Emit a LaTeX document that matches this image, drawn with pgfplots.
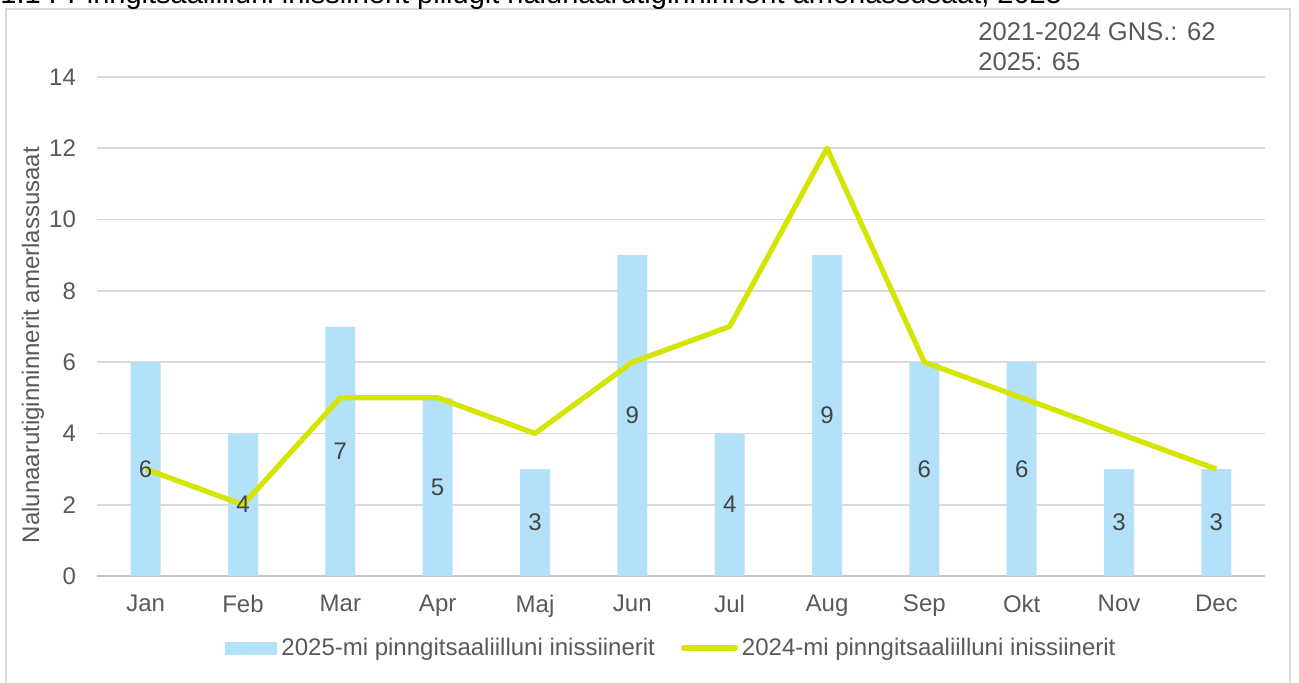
\documentclass[border=0pt]{standalone}
\usepackage{fontspec}
\setmainfont{Liberation Sans}
\usepackage{pgfplots}
\usepackage{pgfplotstable}
\pgfplotsset{compat=1.18}
\definecolor{barblue}{HTML}{B4E1FA}
\definecolor{linegreen}{HTML}{D4E500}
\definecolor{txtgray}{HTML}{595959}
\definecolor{gridgray}{HTML}{D9D9D9}
\pgfplotstableread{
x v l
0 6 3
1 4 2
2 7 5
3 5 5
4 3 4
5 9 6
6 4 7
7 9 12
8 6 6
9 6 5
10 3 4
11 3 3
}\datatab
\begin{document}
\begin{tikzpicture}
\path[use as bounding box] (-48.5pt,-53pt) rectangle (601pt,288pt);
\draw[gridgray, line width=1pt] (-45.5pt,-70pt) -- (-45.5pt,283.5pt) -- (596.5pt,283.5pt) -- (596.5pt,-70pt);
\node[anchor=base west, inner sep=0pt, font=\fontsize{14.5}{16}\selectfont, text=black] at (-48.5pt,286.3pt) {1.1 : Pinngitsaaliilluni inissiinerit pillugit nalunaarutiginninnerit amerlassusaat, 2025};
\begin{axis}[
  at={(0,0)}, anchor=south west,
  scale only axis, width=584pt, height=249.5pt,
  xmin=-0.5, xmax=11.5, ymin=0, ymax=14,
  ytick={0,2,...,14},
  xtick={0,...,11},
  xticklabels={Jan,Feb,Mar,Apr,Maj,Jun,Jul,Aug,Sep,Okt,Nov,Dec},
  axis line style={draw=none},
  major tick length=0pt,
  ymajorgrids, grid style={gridgray, line width=0.8pt},
  tick label style={font=\fontsize{12}{14}\selectfont, text=txtgray},
  /pgf/number format/assume math mode=true,
  yticklabel style={xshift=-7pt},
  xticklabel style={yshift=-6pt},
  legend style={at={(0.4927,-0.1443)}, anchor=center, draw=none, fill=none, legend columns=2,
    font=\fontsize{12}{14}\selectfont, text=txtgray,
    nodes={inner sep=2pt},
    /tikz/every even column/.append style={column sep=11pt}},
  legend cell align=left,
  clip=false,
]
\draw[gridgray!80!gray, line width=0.8pt] (axis cs:-0.5,0) -- (axis cs:11.5,0);
\addplot[ybar, bar width=15pt, fill=barblue, draw=none,
  legend image code/.code={\fill[barblue] (0pt,-3.25pt) rectangle (26pt,3.25pt);}]
  table[x=x, y=v] {\datatab};
\addlegendentry{2025-mi pinngitsaaliilluni inissiinerit}
\addplot[linegreen, line width=2.6pt, mark=none, line join=round,
  legend image code/.code={\draw[linegreen, line width=3pt, line cap=round] (1.5pt,0pt) -- (27pt,0pt);}]
  table[x=x, y=l] {\datatab};
\addlegendentry{2024-mi pinngitsaaliilluni inissiinerit}
\addplot[draw=none, mark=none, forget plot, nodes near coords, point meta=explicit symbolic,
  every node near coord/.style={anchor=center, font=\fontsize{12}{14}\selectfont, text=txtgray!75!black}]
  table[x=x, y expr=\thisrow{v}/2, meta=v] {\datatab};
\end{axis}
\node[rotate=90, font=\fontsize{12}{14}\selectfont, text=txtgray] at (-32pt,115.5pt) {Nalunaarutiginninnerit amerlassusaat};
\node[anchor=west, inner sep=0pt, font=\fontsize{12.8}{14}\selectfont, text=txtgray] at (440.5pt,272pt) {2021-2024 GNS.: 62};
\node[anchor=west, inner sep=0pt, font=\fontsize{12.8}{14}\selectfont, text=txtgray] at (440.5pt,257pt) {2025: 65};
\end{tikzpicture}
\end{document}
